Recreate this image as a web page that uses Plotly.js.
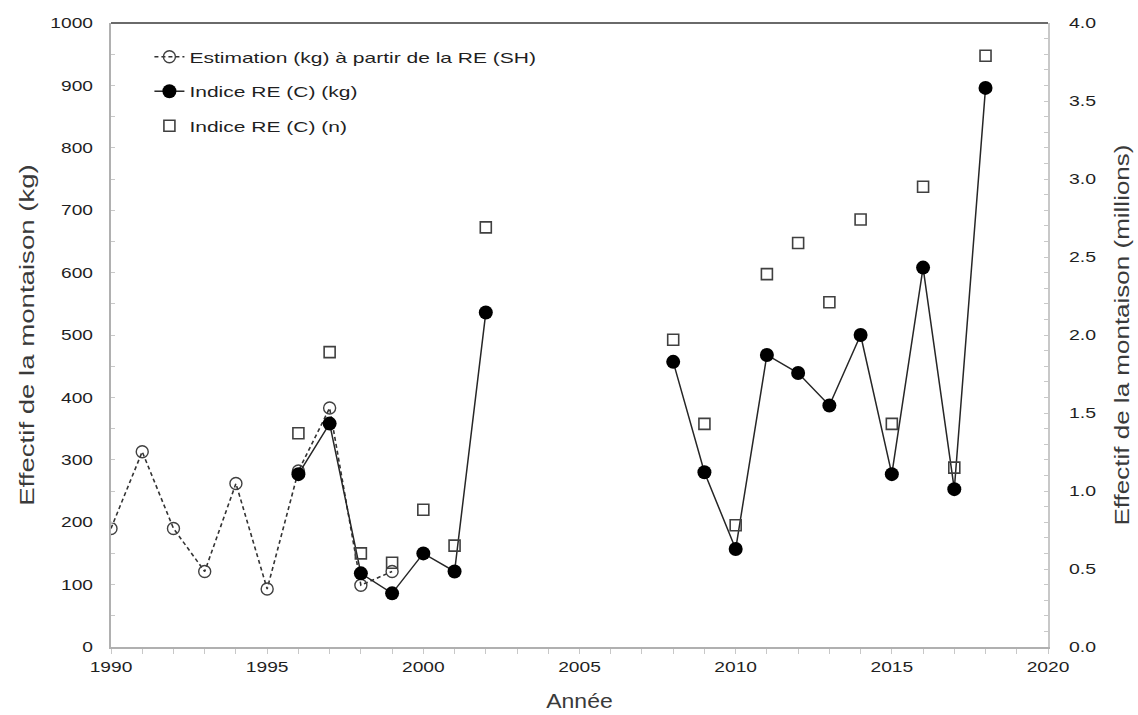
<!DOCTYPE html>
<html>
<head>
<meta charset="utf-8">
<script src="https://cdn.plot.ly/plotly-3.0.1.min.js"></script>
<style>html,body{margin:0;padding:0;background:#fff;}#chart{width:1138px;height:715px;}</style>
</head>
<body>
<div id="chart"></div>
<script>
// Estimation (kg) à partir de la RE (SH)
var estYears = [1990, 1991, 1992, 1993, 1994, 1995, 1996, 1997, 1998, 1999];
var estKg    = [190, 313, 190, 121, 262, 93, 282, 383, 99, 121];

// Indice RE (C) (kg) — gap between 2002 and 2008
var idxYears = [1996, 1997, 1998, 1999, 2000, 2001, 2002, 2005, 2008, 2009, 2010, 2011, 2012, 2013, 2014, 2015, 2016, 2017, 2018];
var idxKg    = [277, 358, 118, 86, 150, 121, 536, null, 457, 280, 157, 468, 439, 387, 500, 277, 608, 253, 896];

// Indice RE (C) (n), millions — right axis
var nYears = [1996, 1997, 1998, 1999, 2000, 2001, 2002, 2008, 2009, 2010, 2011, 2012, 2013, 2014, 2015, 2016, 2017, 2018];
var nMillions = [1.37, 1.89, 0.60, 0.54, 0.88, 0.65, 2.69, 1.97, 1.43, 0.78, 2.39, 2.59, 2.21, 2.74, 1.43, 2.95, 1.15, 3.79];

var FONT = 'Liberation Sans, Arial, sans-serif';

var traces = [
  {
    x: estYears, y: estKg, type: 'scatter', mode: 'lines+markers',
    name: 'Estimation (kg) à partir de la RE (SH)',
    legendgroup: 'a',
    line: {color: '#333333', width: 1.6, dash: '4px,3px'},
    marker: {symbol: 'circle-open', size: 12, color: '#404040', line: {width: 1.4, color: '#404040'}}
  },
  {
    x: idxYears, y: idxKg, type: 'scatter', mode: 'lines+markers',
    name: 'Indice RE (C) (kg)',
    legendgroup: 'b',
    connectgaps: false,
    line: {color: '#262626', width: 1.5},
    marker: {symbol: 'circle', size: 14, color: '#000000'}
  },
  {
    x: nYears, y: nMillions, type: 'scatter', mode: 'markers',
    name: 'Indice RE (C) (n)',
    legendgroup: 'c',
    yaxis: 'y2',
    marker: {symbol: 'square-open', size: 11, color: '#404040', line: {width: 1.6, color: '#404040'}}
  }
];

var layout = {
  width: 1138, height: 715,
  margin: {l: 111, r: 90, t: 23, b: 68},
  paper_bgcolor: '#ffffff', plot_bgcolor: '#ffffff',
  font: {family: FONT, size: 15, color: '#1f1f1f'},
  showlegend: true,
  legend: {
    x: 0.041, y: 0.972, xanchor: 'left', yanchor: 'top',
    bgcolor: 'rgba(0,0,0,0)',
    font: {family: FONT, size: 15, color: '#1f1f1f'},
    traceorder: 'grouped', tracegroupgap: 12
  },
  xaxis: {
    range: [1990, 2020], dtick: 5, tick0: 1990,
    showgrid: false, zeroline: false,
    showline: true, linecolor: '#b0b0b0', linewidth: 2,
    ticks: 'outside', ticklen: 5, tickcolor: '#c8c8c8', tickwidth: 1,
    minor: {dtick: 1, ticks: 'outside', ticklen: 5, tickcolor: '#c8c8c8', showgrid: false},
    tickfont: {family: FONT, size: 15, color: '#1f1f1f'},
    title: {text: 'Année', font: {family: FONT, size: 20, color: '#3a3a3a'}, standoff: 20}
  },
  yaxis: {
    range: [0, 1000], dtick: 100,
    showgrid: false, zeroline: false,
    showline: true, linecolor: '#b0b0b0', linewidth: 2,
    ticks: 'inside', ticklen: 4, tickcolor: '#c8c8c8', tickwidth: 1,
    minor: {dtick: 50, ticks: 'inside', ticklen: 4, tickcolor: '#c8c8c8', showgrid: false},
    ticklabelstandoff: 13,
    tickfont: {family: FONT, size: 15, color: '#1f1f1f'},
    title: {text: 'Effectif de la montaison (kg)', font: {family: FONT, size: 20, color: '#3a3a3a'}, standoff: 20}
  },
  yaxis2: {
    overlaying: 'y', side: 'right', anchor: 'x',
    range: [0, 4], dtick: 0.5, tickformat: '.1f',
    showgrid: false, zeroline: false,
    showline: true, linecolor: '#c8c8c8', linewidth: 2,
    ticks: 'inside', ticklen: 4, tickcolor: '#c8c8c8', tickwidth: 1,
    minor: {dtick: 0.1, ticks: 'inside', ticklen: 4, tickcolor: '#c8c8c8', showgrid: false},
    ticklabelstandoff: 16,
    tickfont: {family: FONT, size: 15, color: '#1f1f1f'},
    title: {text: 'Effectif de la montaison (millions)', font: {family: FONT, size: 20, color: '#3a3a3a'}, standoff: 26}
  },
  shapes: [
    {type: 'line', xref: 'paper', yref: 'paper', x0: 0, x1: 1, y0: 1, y1: 1,
     line: {color: '#6a6a6a', width: 2}}
  ]
};

// widen glyphs to match the reference's wide lettering
function widen(selector, factor) {
  document.querySelectorAll('#chart ' + selector).forEach(function (t) {
    var len = t.getComputedTextLength();
    if (len > 0) {
      t.setAttribute('textLength', (len * factor).toFixed(1));
      t.setAttribute('lengthAdjust', 'spacingAndGlyphs');
    }
  });
}

Plotly.newPlot('chart', traces, layout, {displayModeBar: false, staticPlot: true}).then(function () {
  widen('.xtick text', 1.28);
  widen('.ytick text', 1.28);
  widen('.y2tick text', 1.3);
  widen('.legendtext', 1.4);
  widen('.g-xtitle text', 1.15);
  widen('.g-ytitle text', 1.38);
  widen('.g-y2title text', 1.3);
  // let the widened legend text extend past the legend's measured box
  document.querySelectorAll('#chart .legend [clip-path]').forEach(function (el) {
    el.removeAttribute('clip-path');
  });
});
</script>
</body>
</html>
